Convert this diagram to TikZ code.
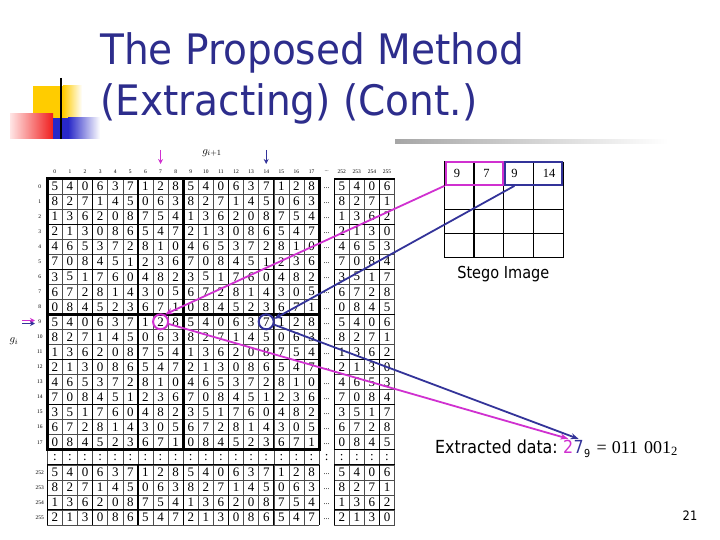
\documentclass[tikz,border=0pt]{standalone}
\usepackage{fontspec}
\setmainfont{Liberation Serif}
\newfontfamily\tah{DejaVu Sans}[FakeStretch=0.88]
\newfontfamily\tahtitle{DejaVu Sans}[FakeStretch=0.93]
\usetikzlibrary{arrows.meta}
\definecolor{mag}{RGB}{208,48,208}
\definecolor{navy}{RGB}{51,51,153}
\definecolor{titlecol}{RGB}{45,45,140}
\definecolor{gold}{RGB}{255,204,0}
\definecolor{redd}{RGB}{240,30,30}
\definecolor{bluu}{RGB}{40,40,200}
\def\rowsdata{0/{5,4,0,6,3,7,1,2,8},1/{8,2,7,1,4,5,0,6,3},2/{1,3,6,2,0,8,7,5,4},3/{2,1,3,0,8,6,5,4,7},4/{4,6,5,3,7,2,8,1,0},5/{7,0,8,4,5,1,2,3,6},6/{3,5,1,7,6,0,4,8,2},7/{6,7,2,8,1,4,3,0,5},8/{0,8,4,5,2,3,6,7,1}}
\begin{document}
\begin{tikzpicture}[x=1pt,y=-1pt,
  cellnum/.style={font=\fontsize{13}{13}\selectfont, inner sep=0pt},
  lab/.style={font=\fontsize{5.5}{6}\selectfont, inner sep=0pt},
  dotcell/.style={font=\fontsize{8}{8}\selectfont, inner sep=0pt},
  gridthin/.style={line width=0.5pt, black!70},
  gridmed/.style={line width=1.2pt, black},
  gridthick/.style={line width=3pt, black},
  conn/.style={line width=1.8pt, -{Stealth[length=8pt,width=6pt]}},
  smallarr/.style={line width=1.2pt, -{Stealth[length=5pt,width=5pt]}},
  ringmark/.style={circle, minimum size=15pt, inner sep=0pt, line width=2pt},
  stegonum/.style={font=\fontsize{12.5}{12.5}\selectfont, inner sep=0pt},
  sanstext/.style={font=\tah\fontsize{18}{18}\selectfont, inner sep=0pt},
  glab/.style={font=\fontsize{11}{11}\selectfont, inner sep=0pt}
]
\useasboundingbox (0,0) rectangle (720,540);
\fill[white] (0,0) rectangle (720,540);

% decoration
\fill[gold] (33,86) rectangle (63,118);
\shade[left color=gold, right color=white] (63,86) rectangle (82,118);
\shade[left color=red!10, right color=redd] (10,114) rectangle (53,139);
\fill[bluu] (53,118) rectangle (68,139);
\shade[left color=bluu, right color=white] (68,118) rectangle (100,139);
\draw[line width=2pt] (61,78) -- (61,139);
\shade[left color=gray!70, right color=white] (395,139.5) rectangle (668,143.5);

% title
\node[anchor=base west, font=\tahtitle\fontsize{42}{42}\selectfont, text=titlecol, inner sep=0pt] (t1) at (100,65) {The Proposed Method};
\node[anchor=base west, font=\tahtitle\fontsize{42}{42}\selectfont, text=titlecol, inner sep=0pt] (t2) at (100,116) {(Extracting) (Cont.)};

% table
\begin{scope}[shift={(47.3,179)}, x=15.1pt, y=-15.04pt]
  \foreach \x in {0,...,23} \draw[gridthin] (\x,0) -- (\x,23);
  \foreach \y in {0,...,23} {\draw[gridthin] (0,\y) -- (18,\y); \draw[gridthin] (19,\y) -- (23,\y);}
  \foreach \x in {0,3,6,9,12,15,18,19,22} {\draw[gridmed] (\x,0) -- (\x,18); \draw[gridmed] (\x,19) -- (\x,23);}
  \foreach \y in {0,3,6,9,12,15,18,19,22} {\draw[gridmed] (0,\y) -- (18,\y); \draw[gridmed] (19,\y) -- (23,\y);}
  \draw[gridthick] (0,0) rectangle (18,18);
  \draw[gridthick] (9,0) -- (9,18);
  \draw[gridthick] (0,9) -- (18,9);
  \foreach \r/\vals in \rowsdata {
    \foreach \v [count=\c from 0] in \vals {
      \foreach \dr in {0,9,19} {
        \foreach \dc in {0,9,19} {
          \pgfmathtruncatemacro\I{\r+\dr}
          \pgfmathtruncatemacro\J{\c+\dc}
          \ifnum\I<23 \ifnum\J<23
            \node[cellnum] (d\I-\J) at (\J+0.5,\I+0.5) {\v};
          \fi\fi
        }
      }
    }
  }
  \foreach \i in {0,...,17,19,20,21,22} \node[dotcell] (e\i) at (18.5,\i+0.62) {...};
  \foreach \j in {0,...,22} \node[cellnum] (v\j) at (\j+0.5,18.5) {:};
  \foreach \j in {0,...,17} \node[lab] (h\j) at (\j+0.5,-0.5) {\j};
  \node[lab] (h18) at (18.5,-0.5) {...};
  \foreach \j/\t in {19/252,20/253,21/254,22/255} \node[lab] (h\j) at (\j+0.5,-0.5) {\t};
  \foreach \i in {0,...,17} \node[lab] (r\i) at (-0.5,\i+0.5) {\i};
  \foreach \i/\t in {19/252,20/253,21/254,22/255} \node[lab] (r\i) at (-0.5,\i+0.5) {\t};
\end{scope}

% g labels and small arrows
\node[glab] (gi1) at (212,153) {$g_{i+1}$};
\node[glab] (gi) at (14,341.5) {$g_i$};
\coordinate (amA) at (160.6,150);
\coordinate (amB) at (160.6,164);
\coordinate (anA) at (266.2,150);
\coordinate (anB) at (266.2,164);
\draw[smallarr, mag] (amA) -- (amB);
\draw[smallarr, navy] (anA) -- (anB);
\coordinate (lmA) at (22,320.5);
\coordinate (lmB) at (35,320.5);
\coordinate (lnA) at (22,323.5);
\coordinate (lnB) at (35,323.5);
\draw[smallarr, mag] (lmA) -- (lmB);
\draw[smallarr, navy] (lnA) -- (lnB);

% circles
\node[ringmark, draw=mag] (circM) at (160.6,321.8) {};
\node[ringmark, draw=navy] (circN) at (266.2,321.8) {};

% stego image grid
\foreach \x in {444.3,474,503.8,533.6,563.3} \draw[line width=1.3pt] (\x,161.7) -- (\x,257.7);
\foreach \y in {161.7,185.7,209.7,233.7,257.7} \draw[line width=1.3pt] (444.3,\y) -- (563.3,\y);
\node[draw=mag, line width=2pt, minimum width=57pt, minimum height=22.5pt, inner sep=0pt] (boxM) at (474,173.6) {};
\node[draw=navy, line width=2pt, minimum width=57pt, minimum height=22.5pt, inner sep=0pt] (boxN) at (533.6,173.6) {};
\node[stegonum] (s1) at (457,173.6) {9};
\node[stegonum] (s2) at (486.5,173.6) {7};
\node[stegonum] (s3) at (514.5,173.6) {9};
\node[stegonum] (s4) at (549,173.6) {14};
\node[font=\tah\fontsize{16.5}{16.5}\selectfont, inner sep=0pt] (stego) at (503.3,274) {Stego Image};

% extracted data
\node[sanstext, anchor=base west] (ext) at (435,453.3) {Extracted data:};
\node[sanstext, anchor=base west, text=mag] (d2) at ([xshift=5pt]ext.base east) {2};
\node[sanstext, anchor=base west, text=navy] (d7) at (d2.base east) {7};
\node[font=\tah\fontsize{11}{11}\selectfont, inner sep=0pt, anchor=base west] (sub9) at ([yshift=-4pt]d7.base east) {9};
\node[font=\fontsize{18}{18}\selectfont, inner sep=0pt, anchor=base west] (rest) at ([xshift=6pt,yshift=4pt]sub9.base east) {=\hspace{5pt}011\hspace{6pt}001\textsubscript{2}};

% connectors
\draw[conn, mag] (boxM.south west) -- (circM.60);
\draw[conn, navy] (s3 |- boxN.south) -- (circN.20);
\draw[conn, mag] (circM.-15) -- ([yshift=1pt]d2.north);
\draw[conn, navy] (circN.-20) -- ([yshift=1pt]d7.north);

% page number
\node[font=\tah\fontsize{13}{13}\selectfont, inner sep=0pt] (pg) at (690,516) {21};
\end{tikzpicture}
\end{document}
